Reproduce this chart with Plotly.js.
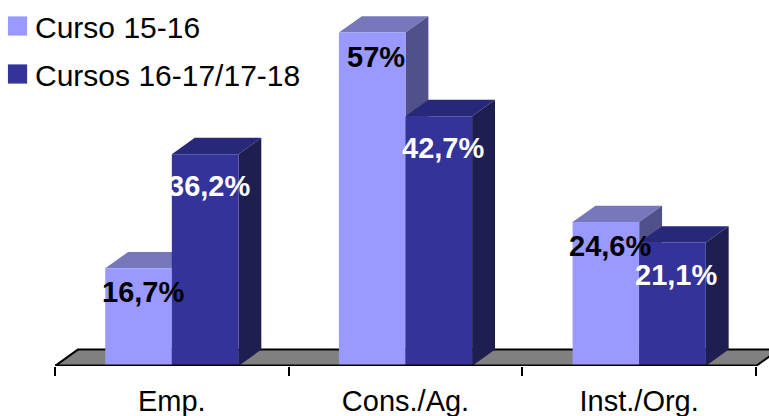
<!DOCTYPE html>
<html><head><meta charset="utf-8">
<script src="https://cdn.plot.ly/plotly-3.0.1.min.js"></script>
<style>
html,body{margin:0;padding:0;background:#fff;}
#chart{width:769px;height:416px;}
.legend .legendpoints path{transform:translate(22.5px,0px) scale(1.6);}
</style></head><body><div id="chart"></div>
<script>
// ---- data ----
const categories = ['Emp.', 'Cons./Ag.', 'Inst./Org.'];
const seriesNames = ['Curso 15-16', 'Cursos 16-17/17-18'];
const curso1516 = [16.7, 57, 24.6];
const cursos1618 = [36.2, 42.7, 21.1];

// ---- styling ----
const seriesValues = [curso1516, cursos1618];
const W = 0.285;   // bar width in category units
const DX = 0.098;  // 3D depth offset (x, category units)
const DY = 2.8;    // 3D depth offset (y, data units)
const styles = [
  {front:'#9999FF', top:'#7777BB', side:'#50508A', label:'#000000', yshift:-24},
  {front:'#333399', top:'#28287A', side:'#1E1E50', label:'#FFFFFF', yshift:-32}
];
const FONT = 'Liberation Sans, Arial, sans-serif';

function fmt(v){ return String(v).replace('.', ',') + '%'; }
function poly(pts){ return 'M' + pts.map(p => p[0] + ',' + p[1]).join('L') + 'Z'; }

const traces = seriesValues.map((vals, s) => ({
  type: 'bar',
  name: seriesNames[s],
  x: categories,
  y: vals,
  width: W,
  offset: s === 0 ? -W : 0,
  marker: {color: styles[s].front, line: {width: 0}},
  legendgroup: 'g' + s,
  hoverinfo: 'none'
}));

const shapes = [];
// floor
shapes.push({type:'path', xref:'x', yref:'y', layer:'below',
  path: poly([[-0.5,0],[categories.length-0.5,0],[categories.length-0.5+DX,DY],[-0.5+DX,DY]]),
  fillcolor:'#808080', line:{color:'#000', width:2}});

categories.forEach((c, i) => {
  seriesValues.forEach((vals, s) => {
    const xl = i + (s === 0 ? -W : 0);
    const xr = xl + W;
    const h = vals[i];
    shapes.push({type:'path', xref:'x', yref:'y', layer:'below',
      path: poly([[xl,h],[xr,h],[xr+DX,h+DY],[xl+DX,h+DY]]),
      fillcolor: styles[s].top, line:{width:0}});
    shapes.push({type:'path', xref:'x', yref:'y', layer:'below',
      path: poly([[xr,0],[xr,h],[xr+DX,h+DY],[xr+DX,DY]]),
      fillcolor: styles[s].side, line:{width:0}});
  });
});
shapes.push({type:'line', xref:'x', yref:'y', layer:'above',
  x0:-0.5, x1:categories.length-0.5, y0:0, y1:0, line:{color:'#000', width:3}});

const annotations = [];
seriesValues.forEach((vals, s) => {
  vals.forEach((v, i) => {
    annotations.push({
      x: i + (s === 0 ? -W/2 : W/2), y: v, xref:'x', yref:'y',
      text: '<b>' + fmt(v) + '</b>', showarrow:false,
      xanchor:'center', yanchor:'middle', xshift:4, yshift: styles[s].yshift,
      font:{family:FONT, size:29, color:styles[s].label}
    });
  });
});

const layout = {
  width: 769, height: 416,
  margin: {l:55, r:0, t:0, b:50, autoexpand:false},
  paper_bgcolor:'#fff', plot_bgcolor:'#fff',
  barmode: 'overlay',
  showlegend: true,
  legend: {
    xref:'paper', yref:'paper', x:-0.084, y:1.0, xanchor:'left', yanchor:'top',
    font:{family:FONT, size:30, color:'#000'}, tracegroupgap:6,
    bgcolor:'rgba(0,0,0,0)', traceorder:'grouped'
  },
  xaxis: {
    type:'category', range:[-0.5, 2.5556], tickson:'boundaries',
    ticks:'outside', ticklen:9, tickwidth:2, tickcolor:'#000',
    ticklabelstandoff:15,
    showline:false, showgrid:false, zeroline:false, automargin:false,
    tickfont:{family:FONT, size:29, color:'#000'}, fixedrange:true
  },
  yaxis: {
    range:[0, 62.56], visible:false, showgrid:false, zeroline:false, fixedrange:true
  },
  shapes: shapes,
  annotations: annotations
};

Plotly.newPlot('chart', traces, layout, {displayModeBar:false, staticPlot:true});
</script></body></html>
